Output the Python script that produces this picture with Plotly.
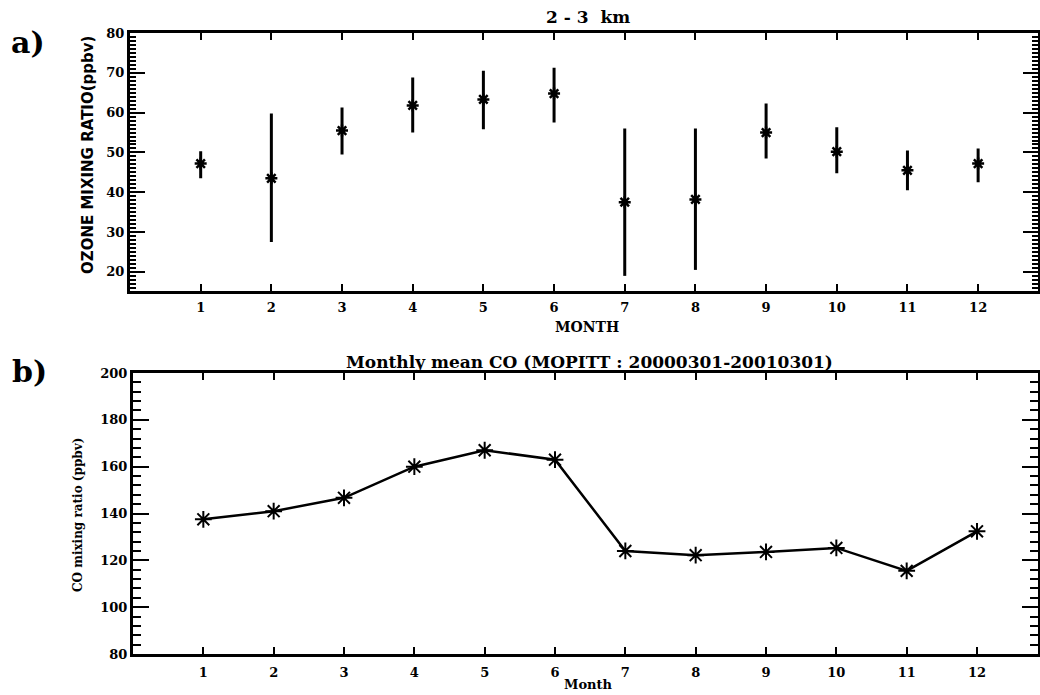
import plotly.graph_objects as go

months = list(range(1, 13))
month_labels = [str(m) for m in months]

# Panel a: ozone mixing ratio at 2-3 km (ppbv), asymmetric ranges
ozone_mean = [47.2, 43.5, 55.5, 61.8, 63.3, 64.8, 37.5, 38.2, 55.0, 50.2, 45.5, 47.2]
ozone_high = [50.3, 59.8, 61.3, 68.8, 70.5, 71.3, 56.0, 56.0, 62.3, 56.3, 50.5, 51.0]
ozone_low = [43.5, 27.5, 49.5, 55.0, 55.8, 57.5, 19.0, 20.5, 48.5, 44.8, 40.5, 42.5]

# Panel b: MOPITT monthly mean CO (ppbv)
co_mean = [137.5, 141.0, 146.7, 160.0, 167.0, 163.0, 124.0, 122.2, 123.6, 125.3, 115.5, 132.4]

err_plus = [h - m for h, m in zip(ozone_high, ozone_mean)]
err_minus = [m - l for m, l in zip(ozone_mean, ozone_low)]

W, H = 1040, 695
def px_x(v):
    return v / W
def px_y(v):
    return 1 - v / H

fig = go.Figure()

fig.add_trace(go.Scatter(
    x=months, y=ozone_mean, mode="markers",
    marker=dict(symbol="asterisk-open", size=10, color="black",
                line=dict(color="black", width=2.5)),
    error_y=dict(type="data", symmetric=False, array=err_plus, arrayminus=err_minus,
                 color="black", thickness=3, width=0),
    xaxis="x", yaxis="y", showlegend=False))

fig.add_trace(go.Scatter(
    x=months, y=co_mean, mode="lines+markers",
    line=dict(color="black", width=2.5),
    marker=dict(symbol="asterisk-open", size=14, color="black",
                line=dict(color="black", width=2)),
    xaxis="x2", yaxis="y2", showlegend=False))

tickfont = dict(family="DejaVu Serif", size=13, color="black", weight="bold")
common_axis = dict(showline=True, linecolor="black", linewidth=3, mirror="allticks",
                   ticks="inside", tickcolor="black", tickwidth=2, showgrid=False,
                   zeroline=False, tickfont=tickfont, automargin=False)

def ann(text, x, y, size, family="DejaVu Serif", angle=0):
    return dict(text=text, x=px_x(x), y=px_y(y), xref="paper", yref="paper",
                xanchor="center", yanchor="middle", textangle=angle, showarrow=False,
                font=dict(family=family, color="black", size=size))

fig.update_layout(
    width=W, height=H,
    margin=dict(l=0, r=0, t=0, b=0, pad=0, autoexpand=False),
    paper_bgcolor="white", plot_bgcolor="white",
    xaxis=dict(common_axis, domain=[px_x(130), px_x(1037.5)], range=[0, 12.84],
               tickvals=months, ticktext=month_labels, ticklen=7, anchor="y",
               ticklabelstandoff=2),
    yaxis=dict(common_axis, domain=[px_y(291), px_y(33)], range=[15.2, 80],
               tickvals=[20, 30, 40, 50, 60, 70, 80], ticklen=15, anchor="x",
               minor=dict(dtick=1, ticklen=6, tickwidth=1.5, tickcolor="black", ticks="inside")),
    xaxis2=dict(common_axis, domain=[px_x(133), px_x(1037.5)], range=[0, 12.86],
                tickvals=months, ticktext=month_labels, ticklen=7, anchor="y2",
                ticklabelstandoff=4),
    yaxis2=dict(common_axis, domain=[px_y(654), px_y(373)], range=[80, 200],
                tickvals=[80, 100, 120, 140, 160, 180, 200], ticklen=16, anchor="x2",
                minor=dict(dtick=4, ticklen=8, tickwidth=2, tickcolor="black", ticks="inside")),
    annotations=[
        ann("<b>2 - 3  km</b>", 588, 17, 17),
        ann("<b>Monthly mean CO (MOPITT : 20000301-20010301)</b>", 589, 362, 17),
        ann("<b>MONTH</b>", 587, 327, 14),
        ann("<b>Month</b>", 588, 684, 13),
        ann("<b>OZONE MIXING RATIO(ppbv)</b>", 88, 155, 15, family="DejaVu Sans", angle=-90),
        ann("<b>CO mixing ratio (ppbv)</b>", 78, 515, 12, angle=-90),
        ann("<b>a)</b>", 28, 42, 30),
        ann("<b>b)</b>", 29, 371, 30),
    ],
)

fig.write_html("out.html", config={"displayModeBar": False},
               post_script="document.body.style.margin='0';document.body.style.overflow='hidden';")
